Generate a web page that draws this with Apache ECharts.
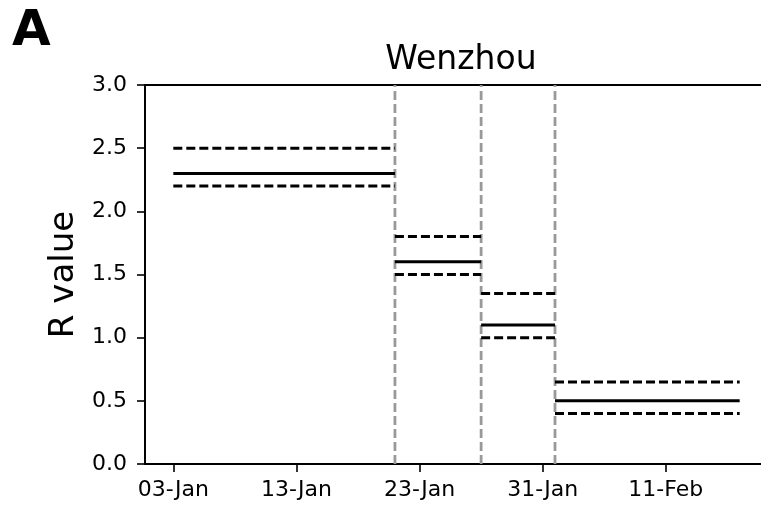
<!DOCTYPE html>
<html>
<head>
<meta charset="utf-8">
<script src="https://cdn.jsdelivr.net/npm/echarts@6/dist/echarts.min.js"></script>
<style>
  html, body { margin: 0; padding: 0; background: #fff; overflow: hidden; }
  /* the plot frame runs slightly past the right edge of the window */
  #chart { width: 775px; height: 508px; }
</style>
</head>
<body>
<div id="chart"></div>
<script>
// Piecewise-constant reproduction number estimates for Wenzhou
// Day index of each change point (start of first window ... end of last)
const breakDays = [0, 18, 25, 31, 46];
// Mean R and its confidence bounds for each window
const rMean  = [2.3, 1.6, 1.1, 0.5];
const rUpper = [2.5, 1.8, 1.35, 0.65];
const rLower = [2.2, 1.5, 1.0, 0.4];
// Change points marked with vertical lines
const changeDays = [18, 25, 31];
// X tick positions (day index) and their date labels
const tickDays   = [0, 10, 20, 30, 40];
const tickLabels = ['03-Jan', '13-Jan', '23-Jan', '31-Jan', '11-Feb'];
// Y tick labels
const yTicks = ['0.0', '0.5', '1.0', '1.5', '2.0', '2.5', '3.0'];

const FONT = 'DejaVu Sans';
const dashed = [9, 4];
const series = [];

for (let i = 0; i < rMean.length; i++) {
  const x0 = breakDays[i], x1 = breakDays[i + 1];
  const levels = [
    { v: rUpper[i], type: dashed },
    { v: rMean[i],  type: 'solid' },
    { v: rLower[i], type: dashed }
  ];
  levels.forEach(l => {
    series.push({
      type: 'line',
      data: [[x0, l.v], [x1, l.v]],
      symbol: 'none',
      silent: true,
      z: 3,
      lineStyle: { color: '#000', width: 3, type: l.type, cap: 'butt' }
    });
  });
}

changeDays.forEach(d => {
  series.push({
    type: 'line',
    data: [[d, 0], [d, 3]],
    symbol: 'none',
    silent: true,
    z: 2,
    lineStyle: { color: '#999999', width: 2.8, type: dashed, cap: 'butt' }
  });
});

const chart = echarts.init(document.getElementById('chart'), null, { renderer: 'canvas' });
chart.setOption({
  animation: false,
  backgroundColor: '#fff',
  title: {
    text: 'Wenzhou',
    left: 456,
    top: 39,
    textAlign: 'center',
    textStyle: { fontFamily: FONT, fontSize: 33, fontWeight: 'normal', color: '#000' }
  },
  graphic: [{
    type: 'text',
    left: 12,
    top: 7,
    style: { text: 'A', fontFamily: FONT, fontSize: 50, fontWeight: 'bold', fill: '#000' }
  }],
  grid: {
    left: 145, top: 85, width: 623, height: 379,
    show: true, borderColor: '#000', borderWidth: 1.8, backgroundColor: 'transparent'
  },
  xAxis: {
    type: 'value',
    min: -2.3,
    max: 48.3,
    splitLine: { show: false },
    axisLine: { show: true, onZero: false, lineStyle: { color: '#000', width: 1.8 } },
    axisTick: { show: true, customValues: tickDays, length: 8, lineStyle: { color: '#000', width: 1.6 } },
    axisLabel: {
      customValues: tickDays,
      margin: 15,
      fontFamily: FONT, fontSize: 22, color: '#000',
      formatter: v => tickLabels[tickDays.indexOf(Math.round(v))] || ''
    }
  },
  yAxis: {
    type: 'value',
    min: 0,
    max: 3,
    interval: 0.5,
    name: 'R value',
    nameLocation: 'middle',
    nameGap: 62,
    nameTextStyle: { fontFamily: FONT, fontSize: 34, color: '#000' },
    splitLine: { show: false },
    axisLine: { show: true, onZero: false, lineStyle: { color: '#000', width: 1.8 } },
    axisTick: { show: true, length: 8, lineStyle: { color: '#000', width: 1.6 } },
    axisLabel: {
      margin: 18,
      fontFamily: FONT, fontSize: 22, color: '#000',
      formatter: v => yTicks[Math.round(v * 2)]
    }
  },
  series: series
});
</script>
</body>
</html>
